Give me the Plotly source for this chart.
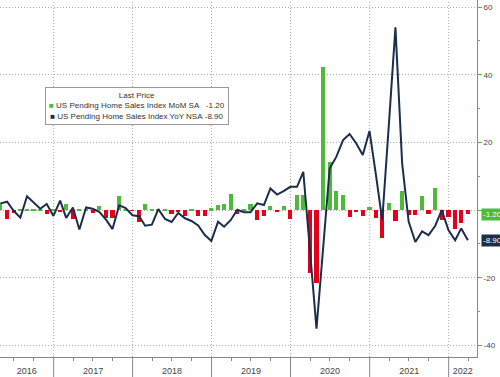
import pandas as pd
import plotly.graph_objects as go

# ---------------- data (monthly, Apr 2016 .. Mar 2022) ----------------
start_month = "2016-04"
mom = [2.2, -2.5, -0.8, 0.3, 0.3, 0.3, 0.3, -1.2,
       0.3, -0.3, 1.7, -2.5, 0.3, 0.3, -0.8, 1.3, -2.2, -2.2, 4.1, 0.2,
       -0.2, -3.5, 1.7, 0.2, 0.2, 0.3, -1.0, -0.6, -1.8, 0.2, -1.8, -1.8,
       0.5, 1.4, 1.7, 4.8, -1.0, 0.2, 1.8, -2.8, -1.6, 1.2, -0.6, 1.2,
       -2.7, 4.6, 4.6, -18.7, -21.5, 42.4, 14.3, 5.7, 4.6, -2.0, -0.3, -1.8,
       1.0, -2.2, -8.2, 2.0, -3.3, 5.8, -1.5, -1.3, 4.1, -1.2, 6.4, -2.9,
       -2.1, -5.6, -3.7, -1.2]
yoy = [2.0, 2.5, -0.2, -2.2, 4.1, 2.3, 0.4, 1.8,
       -1.7, 2.8, -2.3, 0.8, -5.7, 0.8, 0.4, -0.5, -2.8, -5.6, 1.4, 0.6,
       -1.5, -1.8, -4.6, -4.3, 0.3, -2.6, -3.5, -0.8, -2.4, -3.2, -4.5, -7.3,
       -9.1, -3.4, -4.9, -2.9, 0.1, -0.6, -0.6, 2.0, 1.5, 6.4, 4.6, 5.6,
       6.9, 6.9, 11.3, -12.0, -35.0, -11.0, 12.3, 15.8, 20.7, 22.5, 19.7, 16.3,
       23.4, 9.9, -3.0, 25.7, 54.0, 13.8, -3.4, -9.4, -6.3, -7.4, -4.6, 0.0,
       -5.9, -8.9, -5.4, -8.9]
year_labels = ["2016", "2017", "2018", "2019", "2020", "2021", "2022"]
y_ticks = [60, 40, 20, 0, -20, -40]
y_tick_text = ["60", "40", "20", "", "-20", "-40"]  # 0 is hidden under the price tag
legend_title = "Last Price"
mom_name = "US Pending Home Sales Index MoM SA"
yoy_name = "US Pending Home Sales Index YoY NSA"

# ---------------- styling ----------------
GREEN = "#4DBA3A"
RED = "#E3001B"
NAVY = "#1B2E4B"
GRID = "#AAAAAA"
TXT = "#444444"
FONT = "Liberation Sans"

try:
    dates = pd.date_range(start_month, periods=len(mom), freq="ME")
except Exception:
    dates = pd.date_range(start_month, periods=len(mom), freq="M")

x_start = pd.Timestamp("2016-04-28")
x_end = pd.Timestamp("2022-05-12")

bar_colors = [GREEN if v >= 0 else RED for v in mom]

fig = go.Figure()
fig.add_trace(go.Bar(
    x=dates, y=mom, marker=dict(color=bar_colors, line=dict(width=0)),
    width=19 * 86400000, name=f"{mom_name}   {mom[-1]:.2f}", showlegend=False,
))
fig.add_trace(go.Scatter(
    x=dates, y=yoy, mode="lines", line=dict(color=NAVY, width=2),
    name=f"{yoy_name} {yoy[-1]:.2f}", showlegend=False,
))

# year label positions: center of visible part of each year
years = [int(y) for y in year_labels]
mids = []
for y in years:
    a = max(pd.Timestamp(f"{y}-01-01"), x_start)
    b = min(pd.Timestamp(f"{y + 1}-01-01"), x_end)
    mids.append(a + (b - a) / 2)

quarters = [d for d in pd.date_range("2016-01-01", "2022-12-31", freq="QS")
            if x_start < d < x_end and d.month != 1]

DOT = "1px,2px"
shapes = []
for y in years[1:]:
    d = pd.Timestamp(f"{y}-01-01")
    shapes.append(dict(type="line", xref="x", yref="paper", x0=d, x1=d,
                       y0=0, y1=1, line=dict(color=GRID, width=1, dash=DOT), layer="below"))
    shapes.append(dict(type="line", xref="x", yref="paper", x0=d, x1=d,
                       y0=0, y1=-0.06, line=dict(color="#888888", width=1)))

NB = "\u00a0"
legend_text = (
    f"{legend_title}<br>"
    f"<span style='color:{GREEN}'>■</span> {mom_name}{NB*3}{mom[-1]:.2f}<br>"
    f"<span style='color:{NAVY}'>■</span> {yoy_name}{NB}{yoy[-1]:.2f}"
)

annotations = [
    dict(xref="paper", yref="paper", x=45 / 477, y=1 - 106 / 357,
         xanchor="left", yanchor="middle", align="center", showarrow=False,
         text=legend_text, font=dict(family=FONT, size=8, color="#333333"),
         bgcolor="white", bordercolor="#999999", borderwidth=1, borderpad=3),
    dict(xref="paper", yref="y", x=1, y=mom[-1], xanchor="left", yanchor="middle",
         xshift=4, text=f"{mom[-1]:.2f}", showarrow=False,
         font=dict(family=FONT, size=8, color="white"), bgcolor=GREEN,
         borderpad=1),
    dict(xref="paper", yref="y", x=1, y=yoy[-1], xanchor="left", yanchor="middle",
         xshift=4, text=f"{yoy[-1]:.2f}", showarrow=False,
         font=dict(family=FONT, size=8, color="white"), bgcolor=NAVY,
         borderpad=1),
]

fig.update_layout(
    width=500, height=377,
    margin=dict(l=0, r=23, t=0, b=20),
    paper_bgcolor="white", plot_bgcolor="white",
    font=dict(family=FONT, size=8, color=TXT),
    bargap=0,
    showlegend=False,
    xaxis=dict(
        type="date", range=[x_start, x_end],
        tickmode="array", tickvals=mids, ticktext=year_labels,
        ticks="outside", ticklen=5, tickcolor="rgba(0,0,0,0)",
        tickfont=dict(size=9, color=TXT),
        showgrid=False, zeroline=False,
        showline=True, linecolor="#888888", linewidth=1,
        minor=dict(tickvals=quarters, ticks="outside", ticklen=3,
                   tickcolor="#888888", showgrid=False),
        fixedrange=True,
    ),
    yaxis=dict(
        side="right", range=[-43.4, 62.1],
        tickmode="array", tickvals=y_ticks, ticktext=y_tick_text,
        ticks="outside", ticklen=4, tickcolor=GREEN,
        tickfont=dict(size=8, color=TXT),
        showgrid=True, gridcolor=GRID, griddash=DOT, gridwidth=1,
        zeroline=False,
        showline=True, linecolor=GREEN, linewidth=1,
        minor=dict(dtick=10, tick0=0, ticks="outside", ticklen=2,
                   tickcolor=GREEN, showgrid=False),
    ),
    shapes=shapes,
    annotations=annotations,
)

fig.write_html("out.html", config={"displayModeBar": False},
               post_script="document.body.style.margin='0';document.body.style.overflow='hidden';")
